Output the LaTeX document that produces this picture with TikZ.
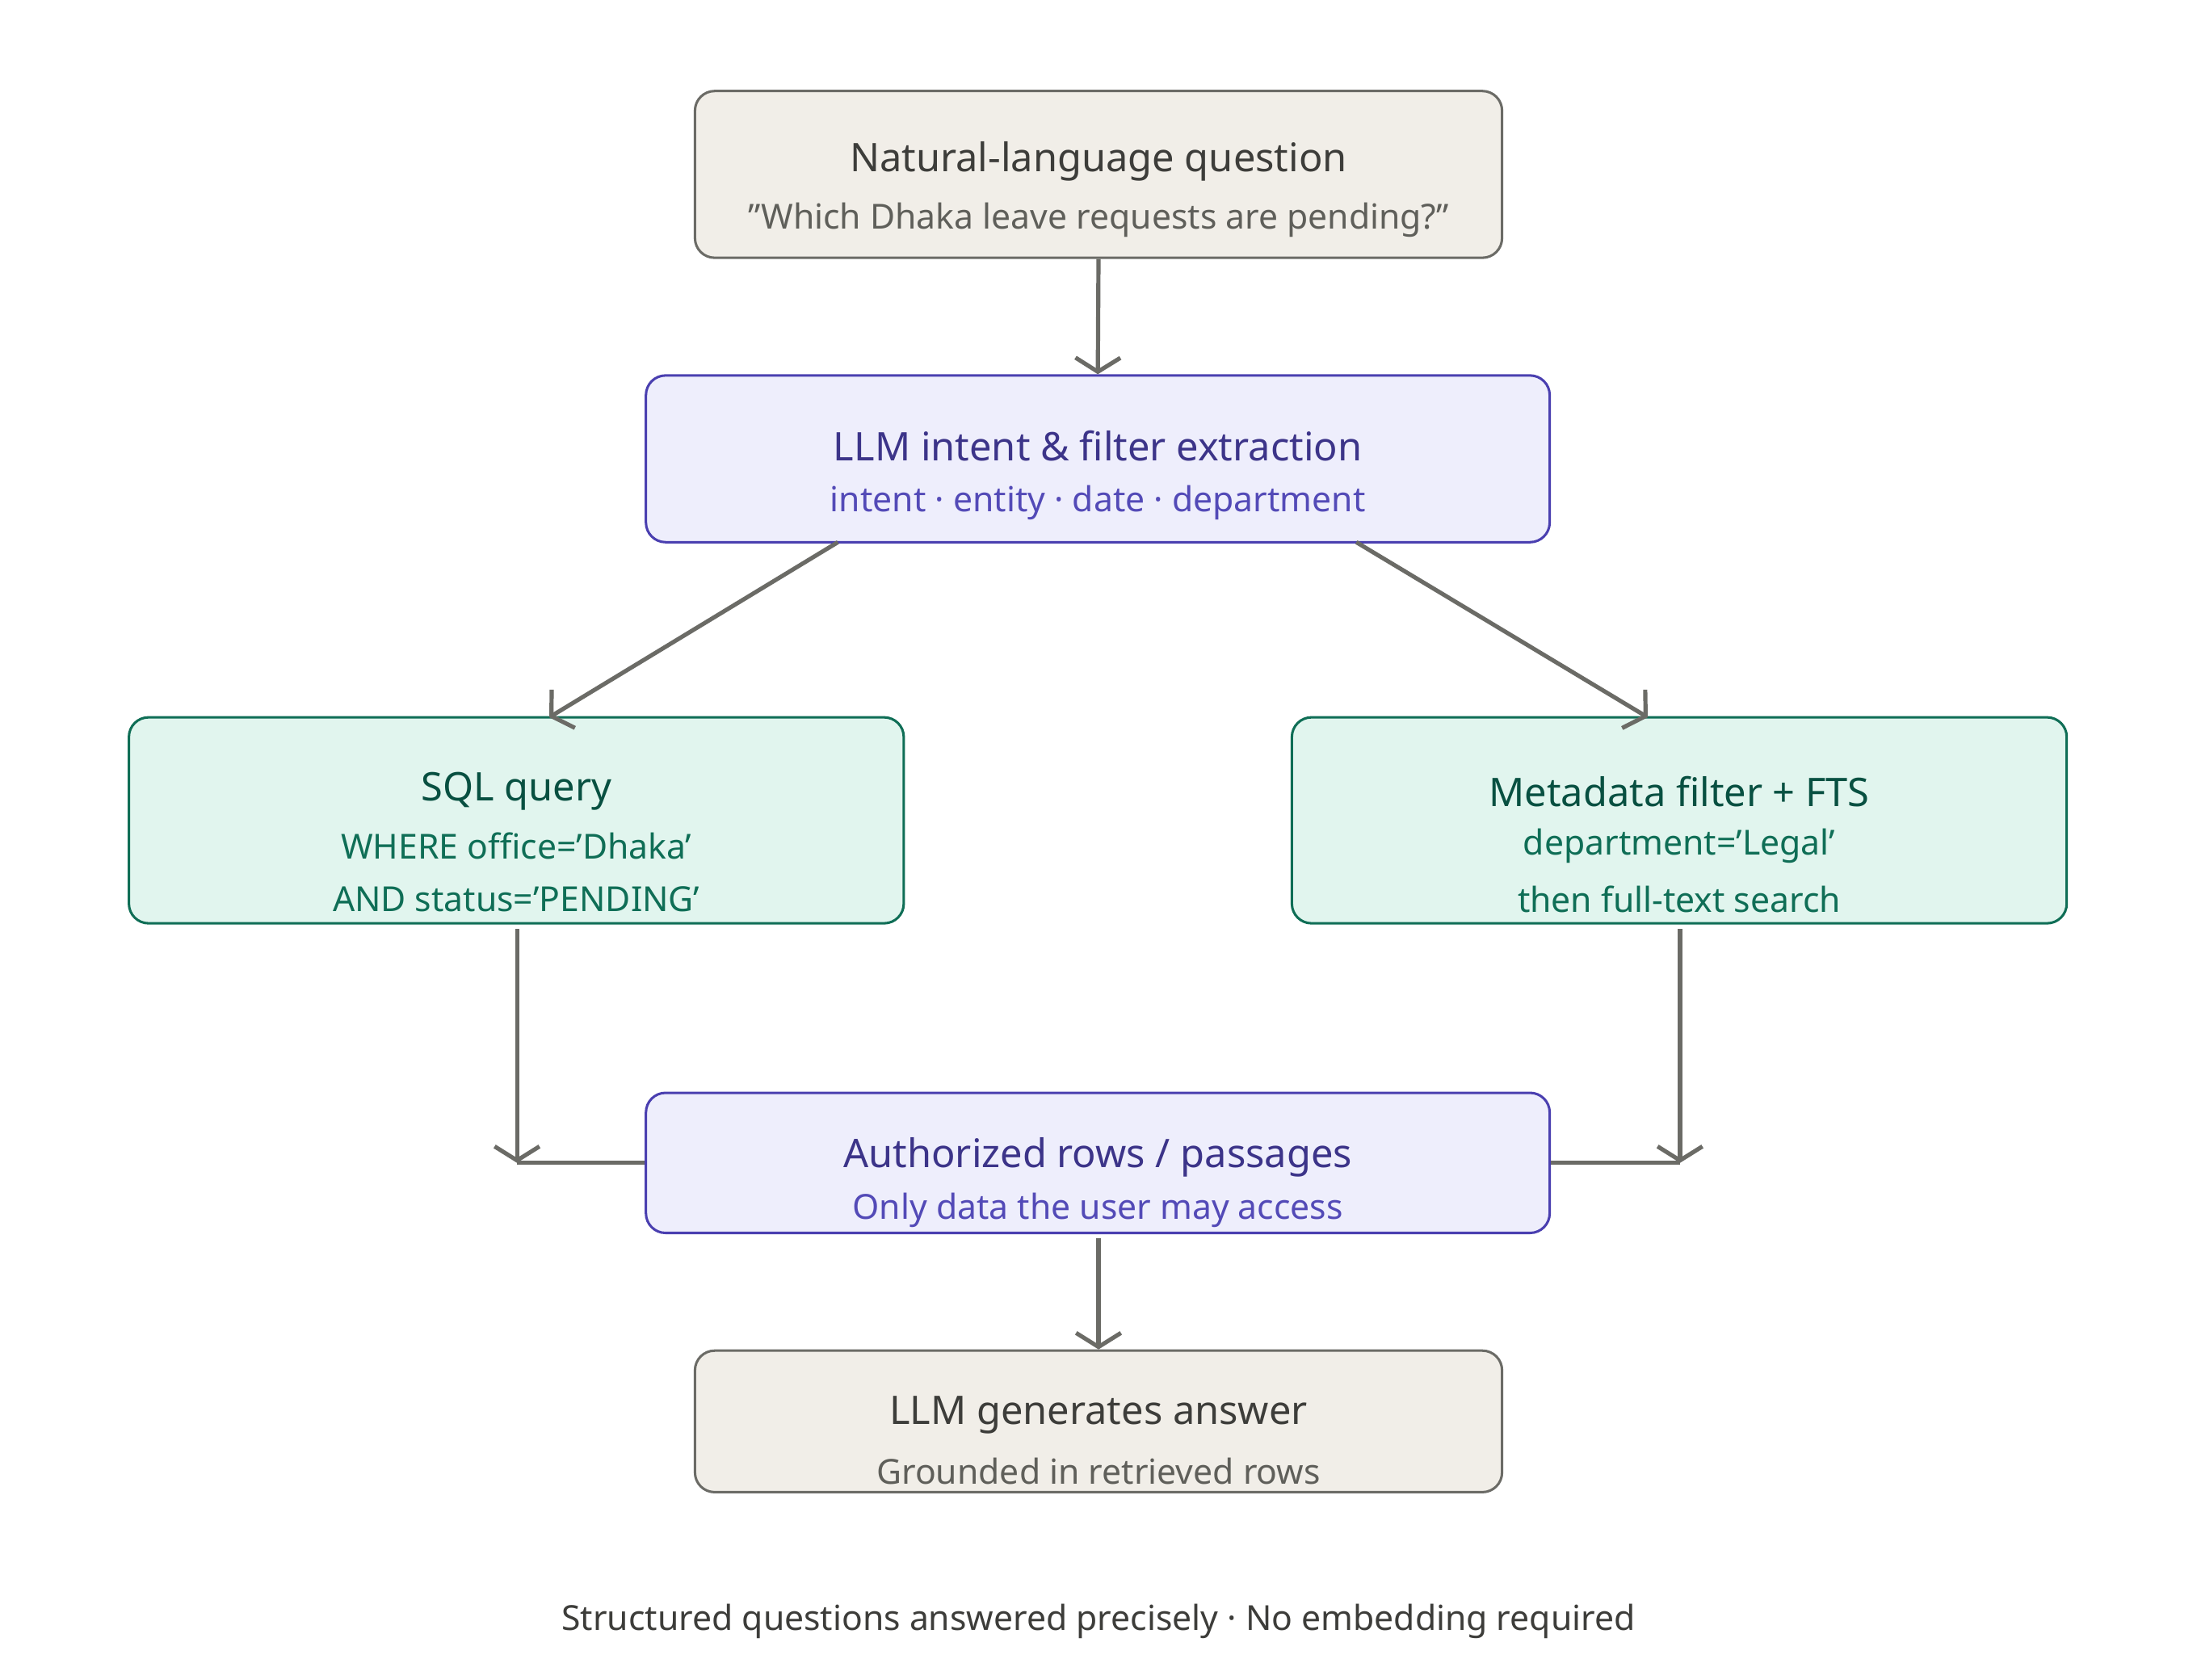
\documentclass[tikz,border=0pt]{standalone}
\usepackage{fontspec}
\setmainfont{Noto Sans}
\usetikzlibrary{arrows.meta,calc}
\definecolor{gfill}{HTML}{F1EEE8}\definecolor{gline}{HTML}{6B6B66}
\definecolor{gtitle}{HTML}{3D3D3A}\definecolor{gsub}{HTML}{5F5F5A}
\definecolor{pfill}{HTML}{EEEEFC}\definecolor{pline}{HTML}{4A3FB0}
\definecolor{ptitle}{HTML}{3C3489}\definecolor{psub}{HTML}{534AB7}
\definecolor{tfill}{HTML}{E1F5EE}\definecolor{tline}{HTML}{0F6E56}
\definecolor{ttitle}{HTML}{085041}\definecolor{tsub}{HTML}{0F6E56}
\begin{document}
\begin{tikzpicture}[
 box/.style={draw, rounded corners=0.14cm, line width=0.5pt, inner sep=0pt},
 gbox/.style={box, fill=gfill, draw=gline},
 pbox/.style={box, fill=pfill, draw=pline},
 tbox/.style={box, fill=tfill, draw=tline},
 ttl/.style={font=\fontsize{8}{9}\selectfont\bfseries, inner sep=0pt},
 sub/.style={font=\fontsize{7}{8}\selectfont, inner sep=0pt},
 arr/.style={draw=gline, line width=0.85pt, -{Straight Barb[length=1mm,width=3.2mm]}},
 ln/.style={draw=gline, line width=0.85pt}]
\useasboundingbox[fill=white] (0,0) rectangle (15.68,11.99);
\node[gbox, minimum width=5.76cm, minimum height=1.19cm] (top) at (7.84,10.745) {};
\node[ttl, text=gtitle] (topt) at (7.84,10.84) {Natural-language question};
\node[sub, text=gsub] (tops) at (7.84,10.42) {"Which Dhaka leave requests are pending?"};
\node[pbox, minimum width=6.45cm, minimum height=1.19cm] (llm) at (7.835,8.715) {};
\node[ttl, text=ptitle] (llmt) at (7.835,8.81) {LLM intent \& filter extraction};
\node[sub, text=psub] (llms) at (7.835,8.40) {intent · entity · date · department};
\node[tbox, minimum width=5.53cm, minimum height=1.47cm] (sql) at (3.685,6.135) {};
\node[ttl, text=ttitle] (sqlt) at (3.685,6.34) {SQL query};
\node[sub, text=tsub] (sqls1) at (3.685,5.95) {WHERE office='Dhaka'};
\node[sub, text=tsub] (sqls2) at (3.685,5.57) {AND status='PENDING'};
\node[tbox, minimum width=5.53cm, minimum height=1.47cm] (meta) at (11.985,6.135) {};
\node[ttl, text=ttitle] (metat) at (11.985,6.34) {Metadata filter + FTS};
\node[sub, text=tsub] (metas1) at (11.985,5.95) {department='Legal'};
\node[sub, text=tsub] (metas2) at (11.985,5.57) {then full-text search};
\node[pbox, minimum width=6.45cm, minimum height=1.0cm] (auth) at (7.835,3.69) {};
\node[ttl, text=ptitle] (autht) at (7.835,3.73) {Authorized rows / passages};
\node[sub, text=psub] (auths) at (7.835,3.35) {Only data the user may access};
\node[gbox, minimum width=5.76cm, minimum height=1.01cm] (ans) at (7.84,1.845) {};
\node[ttl, text=gtitle] (anst) at (7.84,1.89) {LLM generates answer};
\node[sub, text=gsub] (anss) at (7.84,1.49) {Grounded in retrieved rows};
\node[sub, text=gtitle] (foot) at (7.84,0.42) {Structured questions answered precisely · No embedding required};
\coordinate (d1s) at (5.98,8.12); \coordinate (d1e) at (3.92,6.87);
\coordinate (d2s) at (9.68,8.12); \coordinate (d2e) at (11.76,6.87);
\coordinate (sqlb) at (3.69,5.36); \coordinate (jl) at (3.69,3.69);
\coordinate (metab) at (11.99,5.36); \coordinate (jr) at (11.99,3.69);
\coordinate (authb) at (7.84,3.15);
\draw[arr] (top.south) -- (llm.north);
\draw[arr] (d1s) -- (d1e);
\draw[arr] (d2s) -- (d2e);
\draw[arr] (sqlb) -- (jl);
\draw[arr] (metab) -- (jr);
\draw[ln] (auth.west) -- (jl);
\draw[ln] (auth.east) -- (jr);
\draw[arr] (authb) -- (ans.north);
\end{tikzpicture}
\end{document}
